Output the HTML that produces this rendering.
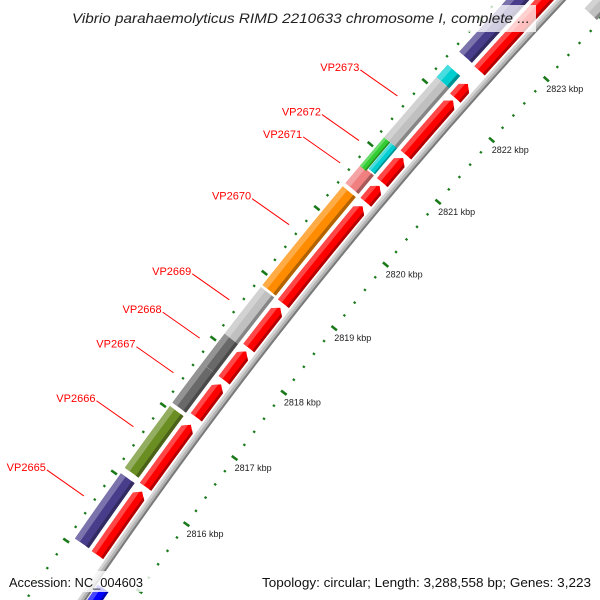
<!DOCTYPE html>
<html><head><meta charset="utf-8"><style>
html,body{margin:0;padding:0;background:#fff;overflow:hidden;width:600px;height:600px;}
svg{display:block;}
text{font-family:"Liberation Sans",sans-serif;}
</style></head><body>
<svg id="map" width="600" height="600" viewBox="0 0 600 600" xmlns="http://www.w3.org/2000/svg">
<g id="g-ruler"></g>
<g id="g-back"></g>
<g id="g-fwd"></g>
<g id="g-rev"></g>
<g id="g-genes"></g>
<g id="g-labels"></g>
<rect x="64" y="5" width="472" height="27" fill="#fff" fill-opacity="0.75"/>
<text x="72" y="23" font-size="14" font-style="italic" fill="#222" textLength="458" lengthAdjust="spacingAndGlyphs">Vibrio parahaemolyticus RIMD 2210633 chromosome I, complete ...</text>
<rect x="0" y="571" width="150" height="21" fill="#fff" fill-opacity="0.8"/>
<text x="9" y="587" font-size="13" fill="#111" textLength="134" lengthAdjust="spacingAndGlyphs">Accession: NC_004603</text>
<rect x="255" y="571" width="345" height="21" fill="#fff" fill-opacity="0.8"/>
<text x="591" y="587" font-size="13" fill="#111" text-anchor="end" textLength="329" lengthAdjust="spacingAndGlyphs">Topology: circular; Length: 3,288,558 bp; Genes: 3,223</text>
</svg>
<script>
// ---- data ----
const tickKbp = [2814, 2815, 2816, 2817, 2818, 2819, 2820, 2821, 2822, 2823, 2824];
const tickLabels = ["2814 kbp","2815 kbp","2816 kbp","2817 kbp","2818 kbp","2819 kbp","2820 kbp","2821 kbp","2822 kbp","2823 kbp","2824 kbp"];
const fwdStarts = [2815.07, 2816.08, 2817.12, 2817.68, 2818.17, 2818.85, 2820.43, 2820.74, 2821.18, 2822.09, 2822.53];
const fwdEnds   = [2816.01, 2817.01, 2817.62, 2818.12, 2818.79, 2820.37, 2820.69, 2821.13, 2822.05, 2822.32, 2824.60];
const geneNames  = ["VP2665","VP2666","VP2667","VP2668","VP2669","VP2670","VP2671","VP2672","","VP2673","",""];
const geneStarts = [2815.08, 2816.12, 2817.09, 2817.68, 2818.13, 2818.87, 2820.45, 2820.72, 2820.76, 2821.17, 2822.13, 2822.54];
const geneEnds   = [2816.04, 2817.04, 2817.68, 2818.13, 2818.84, 2820.40, 2820.74, 2821.17, 2821.20, 2822.13, 2822.33, 2824.60];
const geneColors = ["#483D8B","#6B8E23","#696969","#696969","#C0C0C0","#FF8C00","#F08080","#32CD32","#00CED1","#C0C0C0","#00CED1","#483D8B"];
const geneRows   = [0,0,0,0,0,0,0,1,2,0,0,0];
const revStarts = [2813.80, 2823.95];
const revEnds   = [2814.78, 2825.00];
const revColors = ["#0000FF", "#C0C0C0"];
const revTracks = [0, 1];

// ---- geometry ----
const CX = 4122, CY = 3338;
const PHI0 = 3.7623, K = 0.01691;
const phi = kbp => PHI0 + K * (kbp - 2816);
const pt = (r, kbp) => [CX + r * Math.cos(phi(kbp)), CY + r * Math.sin(phi(kbp))];
const f = v => v.toFixed(2);
const NS = "http://www.w3.org/2000/svg";
function mk(tag, attrs, parent) {
  const e = document.createElementNS(NS, tag);
  for (const k in attrs) e.setAttribute(k, attrs[k]);
  parent.appendChild(e);
  return e;
}
function seg(r1, r2, s, e) {
  const a = pt(r2, s), b = pt(r2, e), c = pt(r1, e), d = pt(r1, s);
  return `M${f(a[0])},${f(a[1])} A${r2},${r2} 0 0 1 ${f(b[0])},${f(b[1])} L${f(c[0])},${f(c[1])} A${r1},${r1} 0 0 0 ${f(d[0])},${f(d[1])} Z`;
}
function arrow(r1, r2, s, e, fwd) {
  const dl = 0.075, rm = (r1 + r2) / 2;
  if (fwd) {
    const a = pt(r2, s), b = pt(r2, e - dl), t = pt(rm, e), c = pt(r1, e - dl), d = pt(r1, s);
    return `M${f(a[0])},${f(a[1])} A${r2},${r2} 0 0 1 ${f(b[0])},${f(b[1])} L${f(t[0])},${f(t[1])} L${f(c[0])},${f(c[1])} A${r1},${r1} 0 0 0 ${f(d[0])},${f(d[1])} Z`;
  }
  const a = pt(r2, s + dl), b = pt(r2, e), c = pt(r1, e), d = pt(r1, s + dl), t = pt(rm, s);
  return `M${f(a[0])},${f(a[1])} A${r2},${r2} 0 0 1 ${f(b[0])},${f(b[1])} L${f(c[0])},${f(c[1])} A${r1},${r1} 0 0 0 ${f(d[0])},${f(d[1])} L${f(t[0])},${f(t[1])} Z`;
}
function shade(hex, amt) {
  let n = parseInt(hex.slice(1), 16), r = n >> 16, g = (n >> 8) & 255, b = n & 255;
  const m = v => Math.max(0, Math.min(255, Math.round(amt > 0 ? v + (255 - v) * amt : v * (1 + amt))));
  return `rgb(${m(r)},${m(g)},${m(b)})`;
}
const svg = document.getElementById('map');
const defs = mk('defs', {}, svg);
let clipId = 0;
function shadedShape(parent, d, r1, r2, s, e, color, name) {
  const id = 'c' + (clipId++);
  const cp = mk('clipPath', { id: id }, defs);
  mk('path', { d: d }, cp);
  const g = mk('g', { 'clip-path': `url(#${id})` }, parent);
  
  
  mk('path', { d: d, fill: color }, g);
  const w = r2 - r1;
  mk('path', { d: seg(r2 - w * 0.35, r2 + 1, s - 0.2, e + 0.2), fill: shade(color, 0.28) }, g);
  mk('path', { d: seg(r1 - 1, r1 + w * 0.2, s - 0.2, e + 0.2), fill: shade(color, -0.3) }, g);
}

// ruler (inner) and outer ticks
const ruler = document.getElementById('g-ruler');
const RIN = 4838, ROUT = 4927;
for (let i = 0; i < tickKbp.length - 1; i++) {
  for (let j = 1; j < 5; j++) {
    const k = tickKbp[i] + j / 5;
    [RIN, ROUT].forEach(r => {
      const a = pt(r - 1.2, k), b = pt(r + 1.2, k);
      const ln = mk('line', { x1: f(a[0]), y1: f(a[1]), x2: f(b[0]), y2: f(b[1]), stroke: '#1a7a1a', 'stroke-width': 2.2 }, ruler);
      
      
    });
  }
}
tickKbp.forEach((k, i) => {
  [RIN, ROUT].forEach(r => {
    const a = pt(r - 3.5, k), b = pt(r + 3.5, k);
    const ln = mk('line', { x1: f(a[0]), y1: f(a[1]), x2: f(b[0]), y2: f(b[1]), stroke: '#1a7a1a', 'stroke-width': 2.6 }, ruler);
    
    
  });
  const p = pt(RIN, k);
  if (p[1] + 13 < 590 && p[1] > 0) {
    const t = mk('text', { x: f(p[0]), y: f(p[1] + 13), 'font-size': 9, fill: '#222' }, ruler);
    
    
    t.textContent = tickLabels[i];
  }
});

// backbone
const back = document.getElementById('g-back');
const bb = mk('path', { d: seg(4877, 4884, 2813, 2825.5), fill: '#b4b4b4' }, back);


mk('path', { d: seg(4881.5, 4884, 2813, 2825.5), fill: '#d4d4d4' }, back);
mk('path', { d: seg(4877, 4879, 2813, 2825.5), fill: '#7a7a7a' }, back);

// forward arrows
const fwdG = document.getElementById('g-fwd');
fwdStarts.forEach((s, i) => {
  const e = fwdEnds[i];
  shadedShape(fwdG, arrow(4886, 4900, s, e, true), 4886, 4900, s, e, '#FF0000', 'forward-gene-arrow');
});

// reverse strand
const revG = document.getElementById('g-rev');
revStarts.forEach((s, i) => {
  const e = revEnds[i];
  if (revTracks[i] === 0) shadedShape(revG, arrow(4863, 4876, s, e, false), 4863, 4876, s, e, revColors[i], 'reverse-gene-arrow');
  else shadedShape(revG, seg(4841, 4858, s, e), 4841, 4858, s, e, revColors[i], 'reverse-gene-bar');
});

// gene bars
const geneG = document.getElementById('g-genes');
const labG = document.getElementById('g-labels');
geneStarts.forEach((s, i) => {
  const e = geneEnds[i];
  let r1 = 4904, r2 = 4921;
  if (geneRows[i] === 1) r1 = 4913;
  if (geneRows[i] === 2) r2 = 4912.5;
  shadedShape(geneG, seg(r1, r2, s, e), r1, r2, s, e, geneColors[i], 'gene-bar');
  if (geneNames[i]) {
    const end = pt(4938, (s + e) / 2);
    const st = [end[0] - 37, end[1] - 26];
    const ln = mk('line', { x1: f(st[0]), y1: f(st[1]), x2: f(end[0]), y2: f(end[1]), stroke: '#ff0000', 'stroke-width': 1 }, labG);
    
    
    const t = mk('text', { x: f(st[0] - 1), y: f(st[1] + 1), 'font-size': 11, fill: '#ff0000', 'text-anchor': 'end' }, labG);
    
    
    t.textContent = geneNames[i];
  }
});
</script>
</body></html>
